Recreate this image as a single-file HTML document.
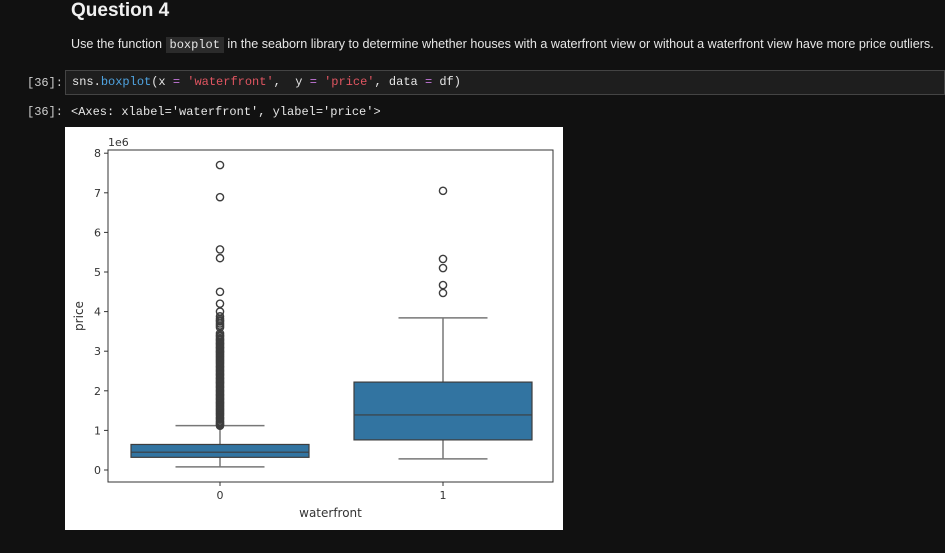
<!DOCTYPE html>
<html><head><meta charset="utf-8"><style>
body{margin:0;width:945px;height:553px;background:#111111;overflow:hidden;font-family:"Liberation Sans",sans-serif;color:#e6e6e6;position:relative}
.h{position:absolute;left:71px;top:0px;font-size:19px;font-weight:bold;color:#f0f0f0}
.p{position:absolute;left:71px;top:37px;font-size:12.6px;letter-spacing:0px;color:#e6e6e6;white-space:nowrap}
.c{background:#2b2b2b;font-family:"Liberation Mono",monospace;padding:1px 4px;font-size:12px;letter-spacing:0}
.lab{position:absolute;font-family:"Liberation Mono",monospace;font-size:12px;color:#cfcfcf}
.cell{position:absolute;left:65px;top:70px;width:880px;height:25px;background:#1e1e1e;border:1px solid #444;box-sizing:border-box;font-family:"Liberation Mono",monospace;font-size:12px;line-height:23px;padding-left:6px;white-space:pre}
.out{position:absolute;left:71px;top:105px;font-family:"Liberation Mono",monospace;font-size:12px;white-space:pre}
</style></head><body>
<div class="h">Question 4</div>
<div class="p">Use the function <span class="c">boxplot</span> in the seaborn library to determine whether houses with a waterfront view or without a waterfront view have more price outliers.</div>
<div class="lab" style="left:27px;top:76px">[36]:</div>
<div class="cell"><span>sns.</span><span style="color:#4fa3e0">boxplot</span>(x <span style="color:#c678dd">=</span> <span style="color:#e05561">'waterfront'</span>,  y <span style="color:#c678dd">=</span> <span style="color:#e05561">'price'</span>, data <span style="color:#c678dd">=</span> df)</div>
<div class="lab" style="left:27px;top:105px">[36]:</div>
<div class="out">&lt;Axes: xlabel='waterfront', ylabel='price'&gt;</div>
<svg id="chart" style="position:absolute;left:65px;top:127px" width="498" height="403"></svg>
<script>
const categories=["0","1"];
const q1=[0.32,0.76];
const medians=[0.45,1.39];
const q3=[0.645,2.22];
const whiskLo=[0.078,0.28];
const whiskHi=[1.12,3.84];
const outliers0=[7.7,6.89,5.57,5.35,4.5,4.2,4.0,3.88,3.82,3.78,3.75,3.7,3.65,3.6,3.45,3.4,3.37,3.33,3.3,3.27,3.23,3.2,3.17,3.13,3.1,3.07,3.03,3.0,2.97,2.93,2.9,2.87,2.83,2.8,2.77,2.73,2.7,2.67,2.63,2.6,2.57,2.53,2.5,2.47,2.43,2.4,2.37,2.33,2.3,2.27,2.23,2.2,2.17,2.13,2.1,2.07,2.03,2.0,1.97,1.93,1.9,1.87,1.83,1.8,1.77,1.73,1.7,1.67,1.63,1.6,1.57,1.53,1.5,1.47,1.43,1.4,1.37,1.33,1.3,1.27,1.23,1.2,1.17,1.14,1.12];
const outliers1=[7.05,5.33,5.1,4.67,4.47];
const yTicks=[0,1,2,3,4,5,6,7,8];
const svg=document.getElementById('chart');
const NS='http://www.w3.org/2000/svg';
const L=43,R=488,T=23,B=355;
function y(v){return 343-v*39.6;}
function x(i){return 155+i*223;}
function mk(t,a,parent){const e=document.createElementNS(NS,t);for(const k in a)e.setAttribute(k,a[k]);(parent||svg).appendChild(e);return e;}
mk('rect',{x:0,y:0,width:498,height:403,fill:'#fff'});
yTicks.forEach(v=>{
 const l=mk('line',{x1:L-4,x2:L,y1:y(v),y2:y(v),stroke:'#333'});
 
 
 const t=mk('text',{x:L-7,y:y(v)+4,'text-anchor':'end','font-size':11,fill:'#333','font-family':'DejaVu Sans, sans-serif'});
 t.textContent=v;
 
 
});
const off=mk('text',{x:L,y:T-4,'font-size':11,fill:'#333','font-family':'DejaVu Sans, sans-serif'});off.textContent='1e6';


categories.forEach((c,i)=>{
 const cx=x(i),hw=89;
 const g=mk('g',{});
 
 
 mk('line',{x1:cx,x2:cx,y1:y(whiskLo[i]),y2:y(q1[i]),stroke:'#777','stroke-width':1.5},g);
 mk('line',{x1:cx,x2:cx,y1:y(q3[i]),y2:y(whiskHi[i]),stroke:'#777','stroke-width':1.5},g);
 mk('line',{x1:cx-hw/2,x2:cx+hw/2,y1:y(whiskLo[i]),y2:y(whiskLo[i]),stroke:'#777','stroke-width':1.5},g);
 mk('line',{x1:cx-hw/2,x2:cx+hw/2,y1:y(whiskHi[i]),y2:y(whiskHi[i]),stroke:'#777','stroke-width':1.5},g);
 mk('rect',{x:cx-hw,y:y(q3[i]),width:2*hw,height:y(q1[i])-y(q3[i]),fill:'#3274a1',stroke:'#3d3d3d','stroke-width':1.2},g);
 mk('line',{x1:cx-hw,x2:cx+hw,y1:y(medians[i]),y2:y(medians[i]),stroke:'#3d3d3d','stroke-width':1.2},g);
 (i==0?outliers0:outliers1).forEach(v=>{
  const o=mk('circle',{cx:cx,cy:y(v),r:3.6,fill:'none',stroke:'#3d3d3d','stroke-width':1.4},g);
  
  
 });
 mk('line',{x1:cx,x2:cx,y1:B,y2:B+4,stroke:'#333'});
 const t=mk('text',{x:cx,y:B+17,'text-anchor':'middle','font-size':11,fill:'#333','font-family':'DejaVu Sans, sans-serif'});
 t.textContent=c;
 
 
});
mk('rect',{x:L,y:T,width:R-L,height:B-T,fill:'none',stroke:'#333','stroke-width':1});
const xt=mk('text',{x:(L+R)/2,y:390,'text-anchor':'middle','font-size':12,fill:'#333','font-family':'DejaVu Sans, sans-serif'});xt.textContent='waterfront';


const yt=mk('text',{x:0,y:0,'text-anchor':'middle','font-size':12,fill:'#333','font-family':'DejaVu Sans, sans-serif',transform:'translate(18,189) rotate(-90)'});yt.textContent='price';


</script>
</body></html>
